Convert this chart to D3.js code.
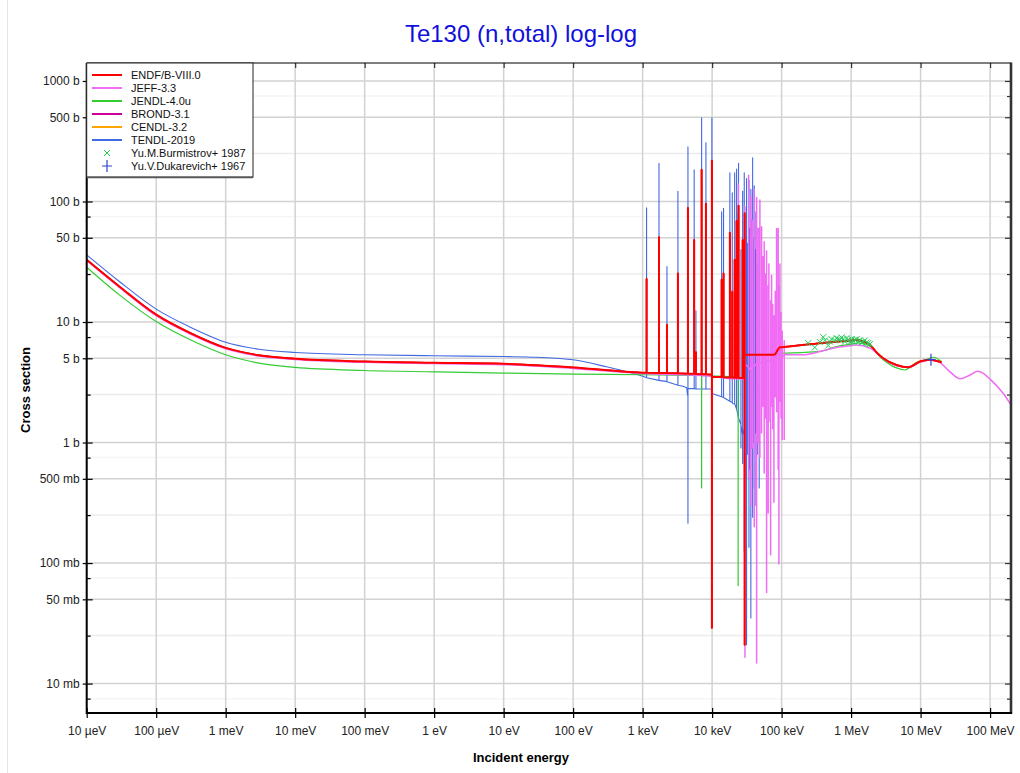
<!DOCTYPE html>
<html><head><meta charset="utf-8">
<script src="https://cdn.jsdelivr.net/npm/d3@7"></script>
<style>
html,body{margin:0;padding:0;background:#fff;}
svg text{font-family:"Liberation Sans",Arial,sans-serif;}
</style></head>
<body><svg id="chart" width="1020" height="773"></svg>
<script>
// ---------- tick definitions ----------
const xTickValues = [1e-5,1e-4,1e-3,1e-2,1e-1,1,10,100,1e3,1e4,1e5,1e6,1e7,1e8];
const xTickLabels = ["10 µeV","100 µeV","1 meV","10 meV","100 meV","1 eV","10 eV","100 eV","1 keV","10 keV","100 keV","1 MeV","10 MeV","100 MeV"];
const yTickValues = [0.01,0.05,0.1,0.5,1,5,10,50,100,500,1000];
const yTickLabels = ["10 mb","50 mb","100 mb","500 mb","1 b","5 b","10 b","50 b","100 b","500 b","1000 b"];
const yMinorValues = [0.0075,0.025,0.075,0.25,0.75,2.5,7.5,25,75,250,750];
const yFaintGrid = [0.025,0.25,2.5,25,250];
const yFainterGrid = [0.0075,0.075,0.75,7.5,75,750];

// ---------- evaluated data: smooth points [E (eV), sigma (b)] ----------
const endfSmooth = [[1e-5,32.8],[2.95e-5,19.7],[1e-4,11.5],[3.1e-4,8.1],[1e-3,6.1],[3e-3,5.3],[1e-2,4.95],[0.1,4.70],[1,4.59],[10,4.50],[100,4.20],[1000,3.80],[1.05e4,3.50],[3.05e4,5.36],[7.8e4,5.36],[9.5e4,6.18],[1e5,6.19],[3.56e5,6.68],[1e6,7.03],[1.2e6,7.1],[1.5e6,6.85],[1.86e6,6.5],[2.33e6,5.59],[2.9e6,5.0],[4.5e6,4.4],[6.6e6,4.21],[1e7,4.72],[1.36e7,4.87],[2e7,4.63]];
// resonances: [E, base before, top, bottom (or null), base after]
const endfRes = [[1.14e3,3.79,22.8],[1.72e3,3.78,50.6],[2.24e3,3.77,9.5],[3.22e3,3.75,25.3],[4.49e3,3.73,88.5],[5.52e3,3.72,48],[5.85e3,3.71,5.6],[7.06e3,3.69,183],[8.15e3,3.68,96],[9.93e3,3.66,218,0.029,3.52],[1.37e4,3.49,22.4],[1.46e4,3.48,25.3],[1.80e4,3.47,55],[1.95e4,3.46,17.8],[2.11e4,3.45,32.8],[2.25e4,3.45,69],[2.40e4,3.44,92],[2.75e4,3.43,48],[2.94e4,3.42,80,0.021,5.36]];

const jeffSmooth = [[1e-5,32.4],[2.95e-5,19.4],[1e-4,11.3],[3.1e-4,7.95],[1e-3,6.0],[3e-3,5.22],[1e-2,4.88],[0.1,4.63],[1,4.52],[10,4.43],[100,4.12],[1000,3.74],[1e4,3.55],[2e4,3.38],[2.9e4,3.35],[1.1e5,5.35],[2.04e5,5.35],[3.56e5,5.69],[6.2e5,6.15],[1e6,6.38],[1.2e6,6.45],[1.86e6,6.08],[2.9e6,5.0],[4.5e6,4.33],[6.6e6,4.21],[1e7,4.65],[1.44e7,4.87],[1.9e7,4.6],[2.6e7,3.9],[3.7e7,3.38],[5.0e7,3.6],[6.7e7,3.9],[8.0e7,3.75],[1e8,3.36],[1.55e8,2.55],[2e8,2.05]];
const jeffRes = [[2.38e4,3.38,140],[2.97e4,3.35,90,0.0165,4.5],[3.35e4,4.2,165,0.5],[3.6e4,4.0,110,0.3],[3.8e4,4.3,70,0.9],[4.04e4,4.3,126,0.2],[4.37e4,4.5,108,0.0148],[4.6e4,4.4,60,1.0],[4.87e4,4.6,103,0.75],[5.15e4,4.5,61.7,1.2],[5.4e4,4.4,35,2.0],[5.62e4,4.7,46.4,0.56],[5.85e4,4.6,25,1.6],[6.08e4,4.8,38.9,0.057],[6.41e4,4.6,20,0.26],[6.56e4,4.7,30.3,1.5],[6.95e4,4.8,15,0.117],[7.18e4,4.9,24.4,2.0],[7.45e4,4.8,14,1.3],[7.75e4,4.9,11.2,0.32],[8.1e4,4.9,18,2.4],[8.47e4,5.0,59.6,1.8],[8.93e4,5.0,59.6,0.6],[9.14e4,5.0,20,0.098],[9.46e4,5.1,30.3,2.2],[9.8e4,5.1,12,1.6],[1.02e5,5.2,8.4,1.06],[1.09e5,5.3,7.0,1.06,5.35]];

const jendlSmooth = [[1e-5,28.5],[2.95e-5,16.8],[1e-4,10.1],[3.1e-4,7.12],[1e-3,5.35],[3e-3,4.56],[1e-2,4.2],[0.1,3.96],[1,3.86],[10,3.77],[100,3.70],[1000,3.65],[2.9e4,3.45],[3.05e4,5.36],[1e5,5.5],[3.56e5,5.7],[6.2e5,6.26],[1e6,6.56],[1.34e6,6.7],[1.86e6,6.3],[2.9e6,4.87],[4.5e6,4.16],[5.9e6,4.0],[8.7e6,4.6],[1.22e7,4.9],[1.52e7,5.1],[2e7,4.7]];
const jendlRes = [[7.06e3,3.6,150,0.42],[2.37e4,3.5,80,0.065]];

// BROND-3.1 and CENDL-3.2 lie under ENDF/B-VIII.0 in the picture
const brondSmooth = endfSmooth, brondRes = endfRes;
const cendlSmooth = endfSmooth, cendlRes = endfRes;

const tendlSmooth = [[1e-5,36.1],[2.95e-5,21.7],[1e-4,12.8],[3.1e-4,9.07],[1e-3,6.8],[3e-3,5.95],[1e-2,5.59],[0.1,5.35],[1,5.25],[10,5.17],[30,5.1],[100,4.86],[300,4.25],[1000,3.55],[4.3e3,2.85],[4.45e3,2.45],[1.1e4,2.5],[2.0e4,2.1],[5.0e4,5.35]];
const tendlRes = [[1.14e3,3.45,88.5],[1.72e3,3.28,207],[2.24e3,3.2,28.8],[3.22e3,2.99,121.6],[4.49e3,2.45,285,0.214,2.8],[5.52e3,2.8,183],[5.85e3,2.79,12.4],[7.06e3,2.78,494],[8.15e3,2.78,307],[9.93e3,2.78,494,null,2.55],[1.37e4,2.4,82],[1.46e4,2.36,88],[1.80e4,2.2,173],[1.95e4,2.15,118],[2.11e4,2.1,173],[2.25e4,1.9,186],[2.40e4,1.6,207],[2.6e4,1.4,40,0.9],[2.75e4,1.15,122,0.67],[2.90e4,1.3,173,0.126],[3.0e4,1.5,50,0.5],[3.13e4,1.6,155,0.021],[3.25e4,1.7,45,0.8],[3.39e4,1.8,150,0.135],[3.5e4,1.9,60,0.6],[3.61e4,1.7,126,0.035],[3.72e4,2.0,70,0.9],[3.83e4,2.0,231,0.24],[3.95e4,2.1,50,1.0],[4.04e4,2.2,135,0.42],[4.15e4,2.3,40,1.2],[4.27e4,2.5,82,0.3],[4.5e4,2.8,30,0.8],[4.76e4,3.0,60,0.42,5.35]];

// ---------- experimental data ----------
const burmE = [2.42e5,3.01e5,3.56e5,3.97e5,4.20e5,4.69e5,4.95e5,5.24e5,5.85e5,6.18e5,6.53e5,6.90e5,7.29e5,7.71e5,8.15e5,8.61e5,9.08e5,9.61e5,1.016e6,1.07e6,1.13e6,1.20e6,1.26e6,1.34e6,1.42e6,1.49e6,1.58e6,1.67e6,1.76e6,1.86e6];
const burmS = [6.68,6.15,6.81,7.49,7.03,6.38,6.89,7.21,7.03,7.35,7.21,7.12,7.44,7.21,6.89,7.35,7.12,6.76,7.21,6.89,7.12,7.21,6.89,7.03,6.76,6.89,7.03,6.76,6.68,6.56];
const dukE = [1.41e7];
const dukS = [4.87];

const seriesNames = ["ENDF/B-VIII.0","JEFF-3.3","JENDL-4.0u","BROND-3.1","CENDL-3.2","TENDL-2019"];
const seriesColors = ["#ff0000","#f06cf4","#33cc33","#cc0099","#ffa500","#4169e1"];
const seriesWidths = [2,1.5,1.2,1.5,1.5,1.1];
const expNames = ["Yu.M.Burmistrov+ 1987","Yu.V.Dukarevich+ 1967"];
const expColors = ["#22cc55","#3344cc"];

// ---------- build ----------
const svg = d3.select("#chart");
const L = 86.7, R = 1011, T = 63, B = 713;
const x = d3.scaleLog().domain([1e-5, 2e8]).range([L, R]);
const y = d3.scaleLog().domain([0.0057, 1410]).range([B, T]);

// faint page border
svg.append("line").attr("x1",7.5).attr("x2",7.5).attr("y1",0).attr("y2",773).attr("stroke","#e6e6e6");

// grid
const grid = svg.append("g");
grid.selectAll("line.fg2").data(yFainterGrid).join("line")
  .attr("x1",L).attr("x2",R).attr("y1",d=>y(d)).attr("y2",d=>y(d)).attr("stroke","#f5f5f5").attr("stroke-width",1.5);
grid.selectAll("line.fg").data(yFaintGrid).join("line")
  .attr("x1",L).attr("x2",R).attr("y1",d=>y(d)).attr("y2",d=>y(d)).attr("stroke","#ececec").attr("stroke-width",1.5);
grid.selectAll("line.hg").data(yTickValues).join("line")
  .attr("x1",L).attr("x2",R).attr("y1",d=>y(d)).attr("y2",d=>y(d)).attr("stroke","#d2d2d2").attr("stroke-width",1.5);
grid.selectAll("line.vg").data(xTickValues).join("line")
  .attr("y1",T).attr("y2",B).attr("x1",d=>x(d)).attr("x2",d=>x(d)).attr("stroke","#d2d2d2").attr("stroke-width",1.5);

// title & axis titles
svg.append("text").attr("x",521).attr("y",42).attr("text-anchor","middle")
  .attr("font-size",24).attr("fill","#1010dd").text("Te130 (n,total) log-log");
svg.append("text").attr("x",521).attr("y",762).attr("text-anchor","middle")
  .attr("font-size",13).attr("font-weight","bold").text("Incident energy");
svg.append("text").attr("transform","translate(30,390) rotate(-90)").attr("text-anchor","middle")
  .attr("font-size",13).attr("font-weight","bold").text("Cross section");

// clip
svg.append("clipPath").attr("id","clip").append("rect")
  .attr("x",L).attr("y",T).attr("width",R-L).attr("height",B-T);

function buildPoints(smooth, res){
  const pts = smooth.map(p=>({e:p[0],s:p[1],o:0}));
  res.forEach(r=>{
    const [e,before,top,bottom,after] = r;
    pts.push({e:e,s:before,o:1});
    pts.push({e:e,s:top,o:2});
    if(bottom!=null) pts.push({e:e,s:bottom,o:3});
    pts.push({e:e,s:(after!=null?after:before),o:4});
  });
  pts.sort((a,b)=>a.e-b.e || a.o-b.o);
  return pts;
}
const curveLine = d3.line().x(d=>x(d.e)).y(d=>y(d.s)).curve(d3.curveMonotoneX);
const straightLine = d3.line().x(d=>x(d.e)).y(d=>y(d.s));
function pathFor(pts){
  // group by energy: single points form smooth runs, groups are vertical spikes
  const groups = d3.groups(pts, d=>d.e);
  let dStr = "", run = [];
  groups.forEach(([e, g])=>{
    if(g.length===1){ run.push(g[0]); }
    else {
      run.push(g[0]);
      if(run.length>1) dStr += curveLine(run);
      dStr += straightLine(g);
      run = [g[g.length-1]];
    }
  });
  if(run.length>1) dStr += curveLine(run);
  return dStr;
}
const allSeries = [
  {smooth:endfSmooth,res:endfRes},
  {smooth:jeffSmooth,res:jeffRes},
  {smooth:jendlSmooth,res:jendlRes},
  {smooth:brondSmooth,res:brondRes},
  {smooth:cendlSmooth,res:cendlRes},
  {smooth:tendlSmooth,res:tendlRes}
];
const plot = svg.append("g").attr("clip-path","url(#clip)");
for(let i=allSeries.length-1;i>=0;i--){
  plot.append("path").attr("d",pathFor(buildPoints(allSeries[i].smooth, allSeries[i].res)))
    .attr("fill","none").attr("stroke",seriesColors[i])
    .attr("stroke-width",seriesWidths[i]).attr("stroke-linejoin","round");
}
// experimental markers
const burm = burmE.map((e,i)=>[e,burmS[i]]);
const bm = plot.append("g").attr("stroke",expColors[0]).attr("stroke-width",1);
burm.forEach(d=>{
  const cx=x(d[0]), cy=y(d[1]), r=3;
  bm.append("path").attr("d",`M${cx-r},${cy-r}L${cx+r},${cy+r}M${cx-r},${cy+r}L${cx+r},${cy-r}`);
});
const duk = dukE.map((e,i)=>[e,dukS[i]]);
const dm = plot.append("g").attr("stroke",expColors[1]).attr("stroke-width",1.2);
duk.forEach(d=>{
  const cx=x(d[0]), cy=y(d[1]);
  dm.append("path").attr("d",`M${cx-4.5},${cy}L${cx+4.5},${cy}M${cx},${cy-6}L${cx},${cy+6}`);
});

// axes
const axB = svg.append("g").attr("transform",`translate(0,${B})`)
  .call(d3.axisBottom(x).tickValues(xTickValues).tickFormat((d,i)=>xTickLabels[i]).tickSize(5).tickPadding(8));
const axBi = svg.append("g").attr("transform",`translate(0,${B})`)
  .call(d3.axisTop(x).tickValues(xTickValues).tickFormat("").tickSize(5));
const axT = svg.append("g").attr("transform",`translate(0,${T})`)
  .call(d3.axisBottom(x).tickValues(xTickValues).tickFormat("").tickSize(5));
const axL = svg.append("g").attr("transform",`translate(${L},0)`)
  .call(d3.axisLeft(y).tickValues(yTickValues).tickFormat((d,i)=>yTickLabels[i]).tickSize(4).tickPadding(3));
const axLi = svg.append("g").attr("transform",`translate(${L},0)`)
  .call(d3.axisRight(y).tickValues(yTickValues).tickFormat("").tickSize(6));
const axLm = svg.append("g").attr("transform",`translate(${L},0)`)
  .call(d3.axisRight(y).tickValues(yMinorValues).tickFormat("").tickSize(4));
const axR = svg.append("g").attr("transform",`translate(${R},0)`)
  .call(d3.axisLeft(y).tickValues(yTickValues).tickFormat("").tickSize(6));
const axRm = svg.append("g").attr("transform",`translate(${R},0)`)
  .call(d3.axisLeft(y).tickValues(yMinorValues).tickFormat("").tickSize(4));
[axB,axBi,axT,axL,axLi,axLm,axR,axRm].forEach(g=>{
  g.select(".domain").remove();
  g.selectAll("text").attr("font-size",12).attr("fill","#222").attr("font-family","'Liberation Sans',Arial,sans-serif");
  g.selectAll(".tick line").attr("stroke","#000").attr("stroke-width",1.2);
});
[axT,axR,axRm].forEach(g=>g.selectAll(".tick line").attr("stroke","#333"));

// frame
svg.append("line").attr("x1",L).attr("x2",R).attr("y1",T).attr("y2",T).attr("stroke","#000").attr("stroke-width",1.2);
svg.append("line").attr("x1",R).attr("x2",R).attr("y1",T-0.6).attr("y2",B+1).attr("stroke","#333").attr("stroke-width",2.6);
svg.append("line").attr("x1",L).attr("x2",R+1).attr("y1",B).attr("y2",B).attr("stroke","#000").attr("stroke-width",2);
svg.append("line").attr("x1",L).attr("x2",L).attr("y1",T).attr("y2",B+1).attr("stroke","#000").attr("stroke-width",2);

// legend
const lg = svg.append("g");
lg.append("rect").attr("x",L).attr("y",T).attr("width",253-L).attr("height",177-T)
  .attr("fill","#fff").attr("stroke","#222").attr("stroke-width",1);
lg.append("line").attr("x1",L).attr("x2",253).attr("y1",177.5).attr("y2",177.5).attr("stroke","#555").attr("stroke-width",1.5);
const rowY = i => 75 + i*13;
seriesNames.forEach((n,i)=>{
  lg.append("line").attr("x1",92).attr("x2",122).attr("y1",rowY(i)).attr("y2",rowY(i))
    .attr("stroke",seriesColors[i]).attr("stroke-width",2);
  lg.append("text").attr("x",131).attr("y",rowY(i)+4).attr("font-size",11).attr("fill","#111").text(n);
});
expNames.forEach((n,j)=>{
  const i = seriesNames.length + j, cy = rowY(i), cx = 107;
  if(j===0){
    lg.append("path").attr("d",`M${cx-3},${cy-3}L${cx+3},${cy+3}M${cx-3},${cy+3}L${cx+3},${cy-3}`).attr("stroke",expColors[0]);
  } else {
    lg.append("path").attr("d",`M${cx-5},${cy}L${cx+5},${cy}M${cx},${cy-6}L${cx},${cy+6}`).attr("stroke",expColors[1]).attr("stroke-width",1.2);
  }
  lg.append("text").attr("x",131).attr("y",cy+4).attr("font-size",11).attr("fill","#111").text(n);
});
</script>
</body></html>
